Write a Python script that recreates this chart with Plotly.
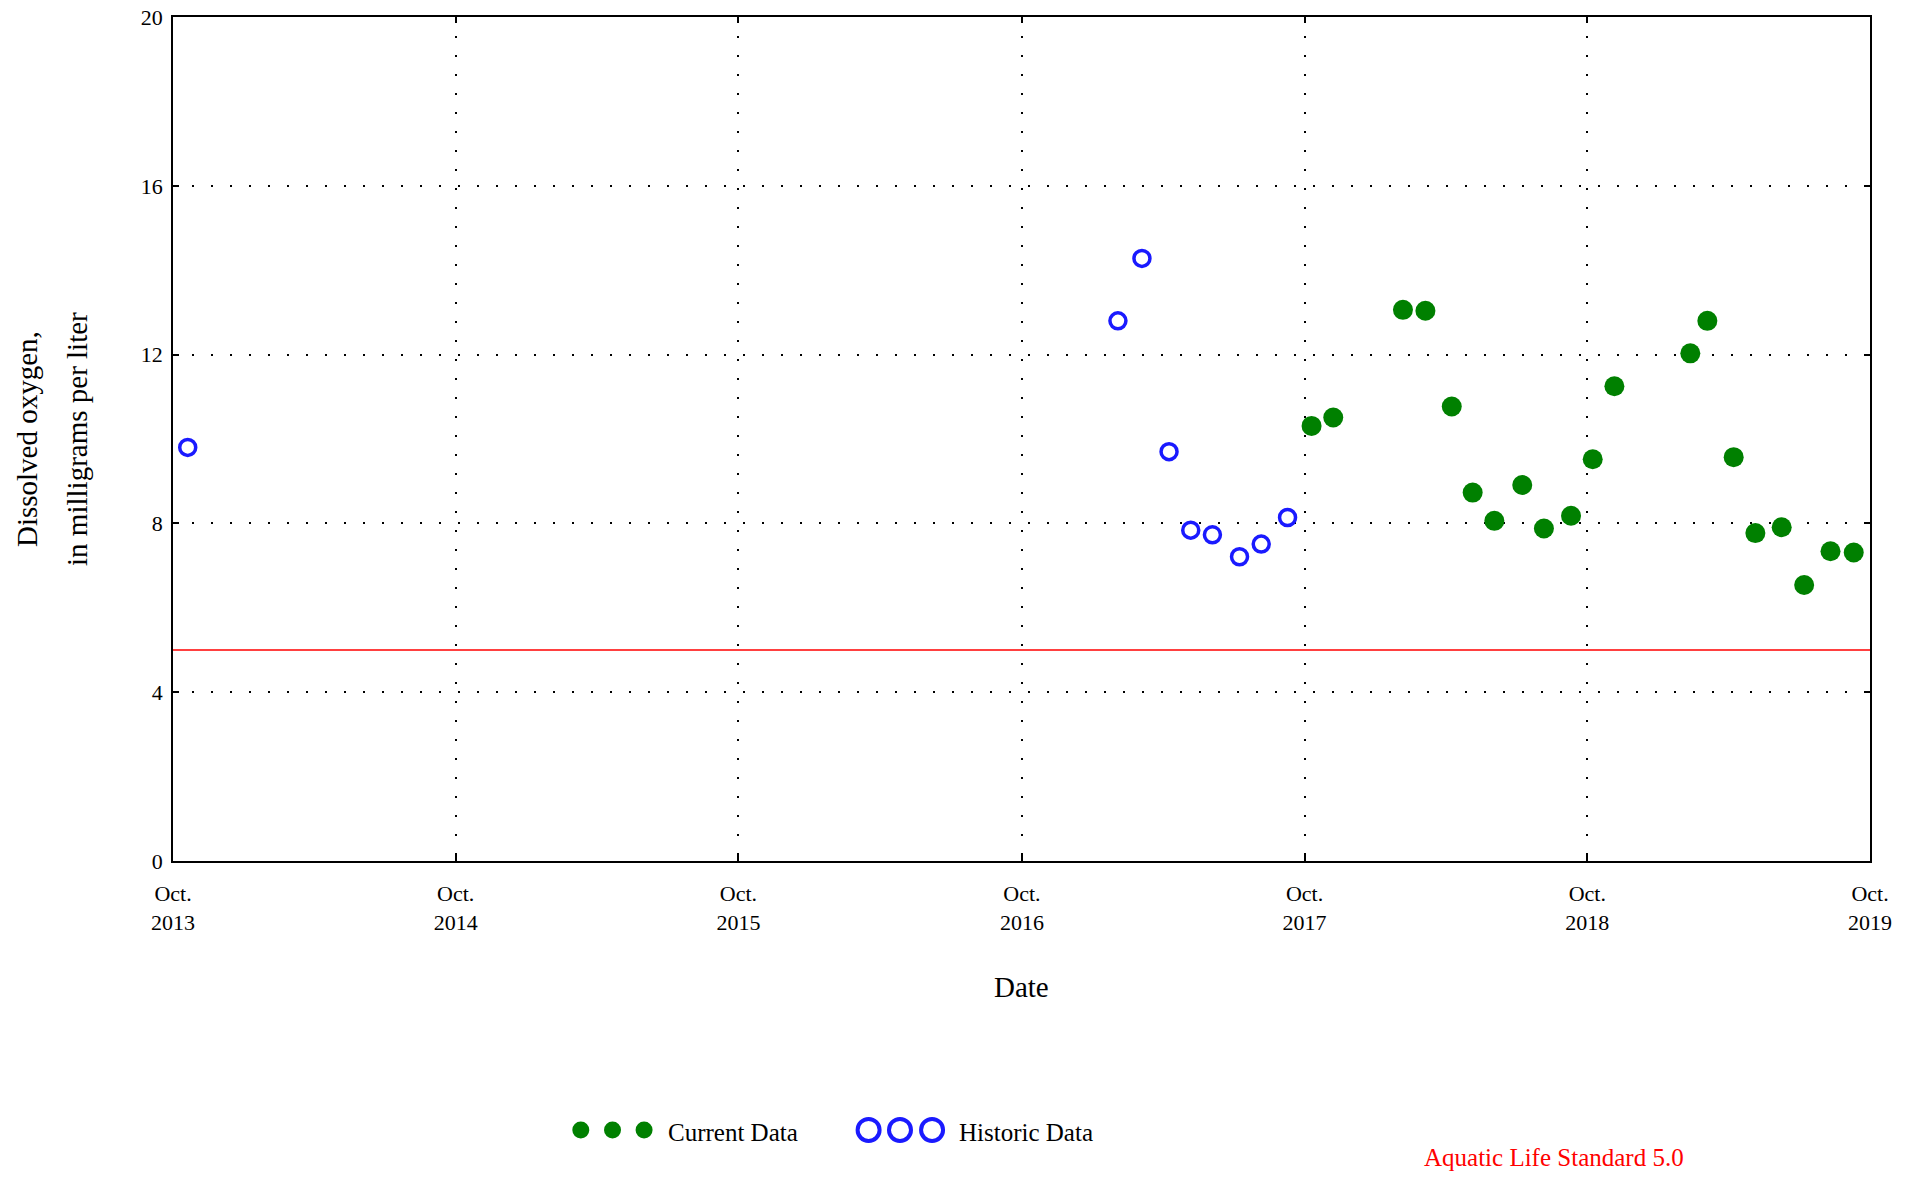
import plotly.graph_objects as go

# ---- data ----
historic_dates = ["2013-10-20", "2017-02-02", "2017-03-05", "2017-04-09", "2017-05-07",
                  "2017-06-04", "2017-07-09", "2017-08-06", "2017-09-09"]
historic_values = [9.8, 12.8, 14.28, 9.7, 7.84, 7.73, 7.21, 7.51, 8.14]

current_dates = ["2017-10-10", "2017-11-07", "2018-02-05", "2018-03-06", "2018-04-09",
                 "2018-05-06", "2018-06-03", "2018-07-09", "2018-08-06", "2018-09-10",
                 "2018-10-08", "2018-11-05", "2019-02-11", "2019-03-05", "2019-04-08",
                 "2019-05-06", "2019-06-09", "2019-07-08", "2019-08-11", "2019-09-10"]
current_values = [10.31, 10.51, 13.06, 13.04, 10.77, 8.73, 8.06, 8.91, 7.88, 8.18,
                  9.52, 11.25, 12.03, 12.80, 9.57, 7.77, 7.91, 6.54, 7.34, 7.31]

x_tick_vals = ["2013-10-01", "2014-10-01", "2015-10-01", "2016-10-01",
               "2017-10-01", "2018-10-01", "2019-10-01"]
x_tick_text = ["Oct.<br>2013", "Oct.<br>2014", "Oct.<br>2015", "Oct.<br>2016",
               "Oct.<br>2017", "Oct.<br>2018", "Oct.<br>2019"]
y_tick_vals = [0, 4, 8, 12, 16, 20]

standard_value = 5.0
standard_label = "Aquatic Life Standard 5.0"

FONT = "Liberation Serif"
GREEN = "#008000"
BLUE = "#1a1aff"

fig = go.Figure()

fig.add_trace(go.Scatter(
    x=historic_dates, y=historic_values, mode="markers", name="Historic Data",
    marker=dict(symbol="circle-open", size=16, color=BLUE, line=dict(width=3.5, color=BLUE)),
    showlegend=False))

fig.add_trace(go.Scatter(
    x=current_dates, y=current_values, mode="markers", name="Current Data",
    marker=dict(symbol="circle", size=20, color=GREEN, line=dict(width=0)),
    showlegend=False))

# standard line
fig.add_shape(type="line", xref="paper", yref="y", x0=0, x1=1,
              y0=standard_value, y1=standard_value,
              line=dict(color="red", width=1.5))

# legend made of shapes + text
def circle(xp, yp, d, fill, line_col, lw):
    fig.add_shape(type="circle", xref="paper", yref="paper",
                  xsizemode="pixel", ysizemode="pixel",
                  xanchor=xp, yanchor=yp,
                  x0=-d / 2, x1=d / 2, y0=-d / 2, y1=d / 2,
                  fillcolor=fill, line=dict(color=line_col, width=lw))

leg_y = -0.3187
for xp in [0.2403, 0.2590, 0.2776]:
    circle(xp, leg_y, 17, GREEN, GREEN, 0)
for xp in [0.4099, 0.4284, 0.4473]:
    circle(xp, leg_y, 22, "rgba(0,0,0,0)", BLUE, 4)

fig.add_annotation(text="Current Data", xref="paper", yref="paper", x=0.2905, y=-0.322,
                   xanchor="left", yanchor="middle", showarrow=False,
                   font=dict(family=FONT, size=25, color="black"))
fig.add_annotation(text="Historic Data", xref="paper", yref="paper", x=0.4617, y=-0.322,
                   xanchor="left", yanchor="middle", showarrow=False,
                   font=dict(family=FONT, size=25, color="black"))
fig.add_annotation(text=standard_label, xref="paper", yref="paper", x=0.8916, y=-0.3515,
                   xanchor="right", yanchor="middle", showarrow=False,
                   font=dict(family=FONT, size=25, color="red"))

# axis titles
fig.add_annotation(text="Date", xref="paper", yref="paper", x=0.5, y=-0.1487,
                   xanchor="center", yanchor="middle", showarrow=False,
                   font=dict(family=FONT, size=29, color="black"))
fig.add_annotation(text="Dissolved oxygen,", xref="paper", yref="paper", x=-0.086, y=0.5,
                   xanchor="center", yanchor="middle", showarrow=False, textangle=-90,
                   font=dict(family=FONT, size=29, color="black"))
fig.add_annotation(text="in milligrams per liter", xref="paper", yref="paper", x=-0.0566, y=0.5,
                   xanchor="center", yanchor="middle", showarrow=False, textangle=-90,
                   font=dict(family=FONT, size=29, color="black"))

fig.update_xaxes(
    type="date", range=["2013-10-01", "2019-10-01"],
    tickmode="array", tickvals=x_tick_vals, ticktext=x_tick_text,
    showgrid=True, gridcolor="black", gridwidth=1.5, griddash="2px,17px",
    showline=True, linecolor="black", linewidth=1.5, mirror="ticks",
    ticks="inside", ticklen=6, tickcolor="black", tickwidth=1.5,
    tickfont=dict(family=FONT, size=22, color="black"),
    ticklabelstandoff=12, ticklabeloverflow="allow", automargin=False,
    zeroline=False)

fig.update_yaxes(
    range=[0, 20], tickmode="array", tickvals=y_tick_vals,
    showgrid=True, gridcolor="black", gridwidth=1.5, griddash="2px,17px",
    showline=True, linecolor="black", linewidth=1.5, mirror="ticks",
    ticks="inside", ticklen=6, tickcolor="black", tickwidth=1.5,
    tickfont=dict(family=FONT, size=22, color="black"),
    ticklabelstandoff=4, ticklabeloverflow="allow", automargin=False,
    zeroline=False)

# the page body keeps an 8px margin, so the figure is sized to fit inside it
fig.update_layout(
    width=1897, height=1164,
    margin=dict(l=165, r=35, t=9, b=311, autoexpand=False),
    paper_bgcolor="white", plot_bgcolor="white",
    font=dict(family=FONT, color="black"),
    showlegend=False)

fig.write_html("out.html")
